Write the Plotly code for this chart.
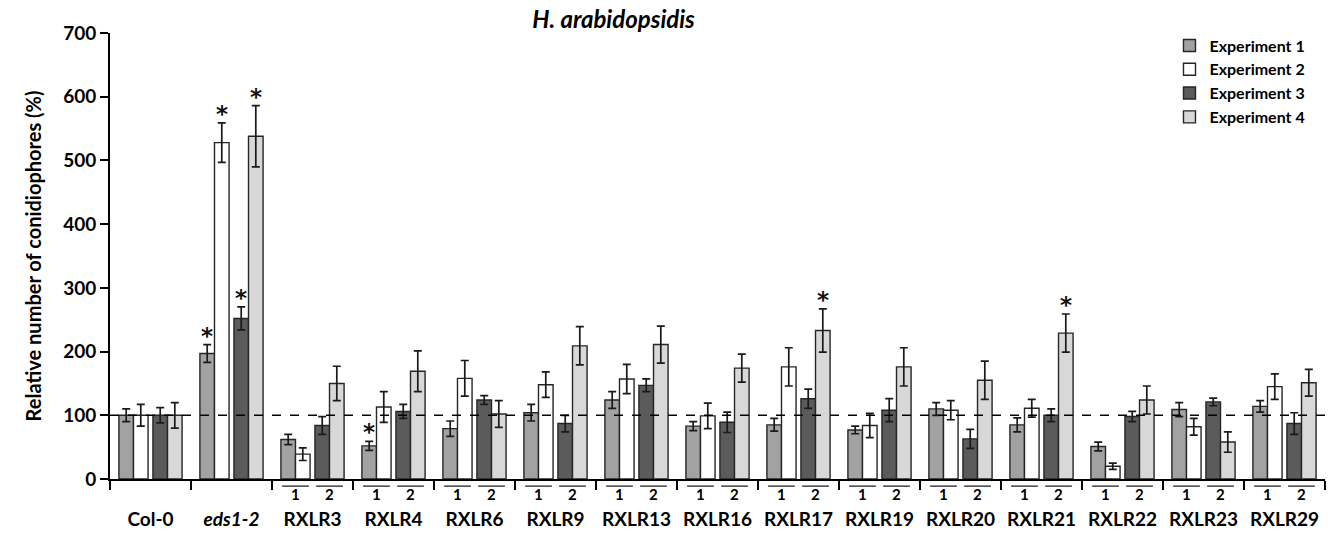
import plotly.graph_objects as go

groups = ["Col-0", "eds1-2", "RXLR3", "RXLR4", "RXLR6", "RXLR9", "RXLR13", "RXLR16",
          "RXLR17", "RXLR19", "RXLR20", "RXLR21", "RXLR22", "RXLR23", "RXLR29"]
group_labels = ["Col-0", "<i>eds1-2</i>", "RXLR3", "RXLR4", "RXLR6", "RXLR9", "RXLR13", "RXLR16",
                "RXLR17", "RXLR19", "RXLR20", "RXLR21", "RXLR22", "RXLR23", "RXLR29"]

exp_names = ["Experiment 1", "Experiment 2", "Experiment 3", "Experiment 4"]
exp1 = [100, 197, 62, 52, 79, 104, 124, 83, 85, 77, 110, 85, 51, 109, 114]
exp1_err = [10, 14, 8, 7, 12, 13, 13, 7, 10, 6, 10, 11, 7, 11, 9]
exp2 = [100, 528, 39, 113, 158, 148, 157, 99, 176, 84, 108, 111, 20, 82, 145]
exp2_err = [17, 31, 10, 24, 28, 20, 23, 20, 30, 19, 15, 14, 5, 13, 20]
exp3 = [100, 252, 84, 106, 124, 87, 147, 89, 126, 108, 63, 100, 98, 121, 87]
exp3_err = [12, 18, 14, 11, 7, 13, 10, 16, 15, 18, 15, 10, 8, 6, 17]
exp4 = [100, 538, 150, 169, 102, 209, 211, 174, 233, 176, 155, 229, 124, 58, 151]
exp4_err = [20, 48, 27, 32, 21, 30, 29, 22, 34, 30, 30, 30, 22, 16, 21]

# significance marks: (group, experiment index)
star_groups = ["eds1-2", "eds1-2", "eds1-2", "eds1-2", "RXLR4", "RXLR17", "RXLR21"]
star_exps = [0, 1, 2, 3, 0, 3, 3]

line_labels = ["1", "2"]
reference_level = 100

values = [exp1, exp2, exp3, exp4]
errors = [exp1_err, exp2_err, exp3_err, exp4_err]
colors = ["#a2a2a2", "#ffffff", "#5b5b5b", "#d8d8d8"]
offsets = [-0.39, -0.21, 0.03, 0.21]
bar_w = 0.18
FONT = "Lato"

fig = go.Figure()
for i in range(4):
    fig.add_trace(go.Bar(
        x=groups, y=values[i], name=exp_names[i],
        offset=offsets[i], width=bar_w,
        marker=dict(color=colors[i], line=dict(color="#262626", width=1.4)),
        error_y=dict(type="data", array=errors[i], visible=True,
                     color="#1a1a1a", thickness=1.7, width=4),
    ))

# asterisks
for g, e in zip(star_groups, star_exps):
    gi = groups.index(g)
    fig.add_annotation(x=gi + offsets[e] + bar_w / 2, y=values[e][gi] + errors[e][gi],
                       xref="x", yref="y", text="<b>*</b>", showarrow=False,
                       yanchor="bottom", yshift=-6,
                       font=dict(family="DejaVu Sans", size=23, color="#111111"))

# line sub-labels 1 / 2 with overlines
for gi in range(2, len(groups)):
    for k, lab in enumerate(line_labels):
        c = gi + (-0.21 if k == 0 else 0.21)
        fig.add_annotation(x=c, y=-0.034, xref="x", yref="paper", text="<b>" + lab + "</b>",
                           showarrow=False, yanchor="middle",
                           font=dict(family=FONT, size=15, color="black"))
        fig.add_shape(type="line", xref="x", yref="paper",
                      x0=c - 0.165, x1=c + 0.165, y0=-0.016, y1=-0.016,
                      line=dict(color="#333333", width=1.4))

fig.add_shape(type="line", xref="paper", yref="y", x0=0, x1=1,
              y0=reference_level, y1=reference_level,
              line=dict(color="black", width=1.6, dash="dash"))

fig.update_layout(
    width=1328, height=533,
    margin=dict(l=110, r=3, t=33, b=49),
    paper_bgcolor="white", plot_bgcolor="white",
    barmode="overlay",
    font=dict(family=FONT, color="black"),
    title=dict(text="<b><i>H. arabidopsidis</i></b>", x=0.462, xanchor="center",
               y=0.963, yanchor="middle", yref="container",
               font=dict(family=FONT, size=24, color="black")),
    showlegend=True,
    legend=dict(x=0.872, xanchor="left", y=1.01, yanchor="top",
                font=dict(family=FONT, size=16, color="black", weight="bold"),
                bgcolor="rgba(0,0,0,0)", tracegroupgap=0, itemwidth=30),
    xaxis=dict(type="category", categoryorder="array", categoryarray=groups,
               tickmode="array", tickvals=groups, ticktext=group_labels,
               range=[-0.5, len(groups) - 0.5],
               showline=True, linecolor="black", linewidth=2,
               ticks="outside", tickson="boundaries", ticklen=9, tickwidth=1.5,
               tickcolor="black", showgrid=False, zeroline=False,
               ticklabelstandoff=22,
               tickfont=dict(family=FONT, size=19, color="black", weight="bold")),
    yaxis=dict(range=[0, 700], dtick=100, tick0=0,
               showline=True, linecolor="black", linewidth=2,
               ticks="outside", ticklen=8, tickwidth=1.5, tickcolor="black",
               showgrid=False, zeroline=False,
               tickfont=dict(family=FONT, size=19, color="black", weight="bold"),
               title=dict(text="<b>Relative number of conidiophores (%)</b>",
                          font=dict(family=FONT, size=20, color="black"), standoff=16)),
)

fig.write_html("out.html", config={"displayModeBar": False},
               post_script="document.body.style.margin='0px';")
